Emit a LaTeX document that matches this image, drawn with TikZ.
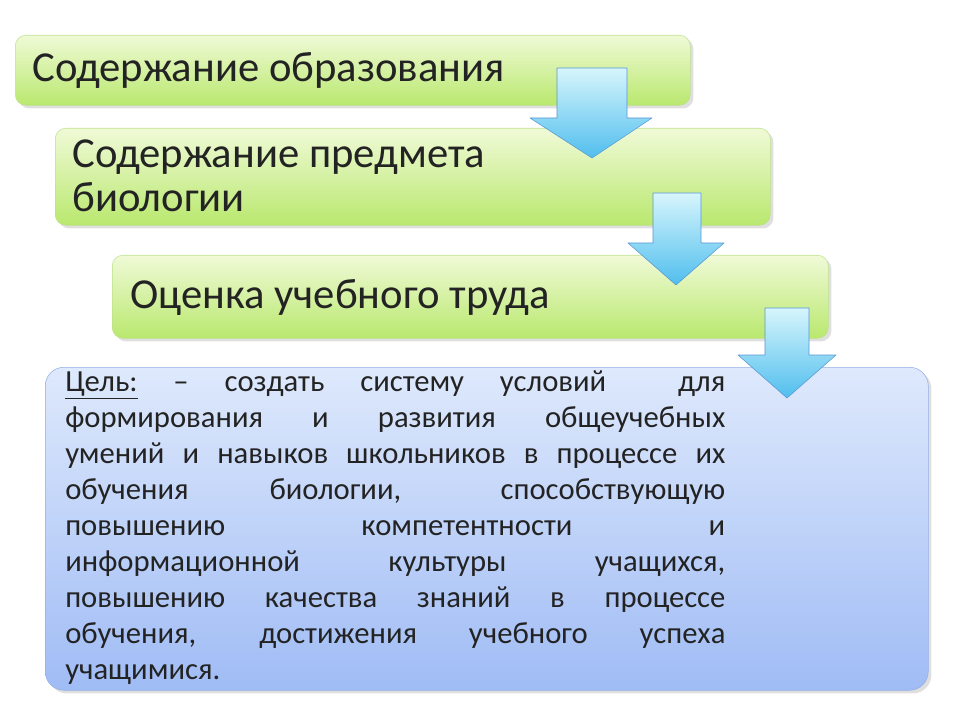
\documentclass[tikz,border=0pt]{standalone}
\usepackage{fontspec}
\setmainfont{Carlito}
\usetikzlibrary{shadows}
\definecolor{greentop}{RGB}{240,250,215}
\definecolor{greenbot}{RGB}{185,232,110}
\definecolor{greenline}{RGB}{190,225,140}
\definecolor{bluetop}{RGB}{222,233,252}
\definecolor{bluebot}{RGB}{160,188,245}
\definecolor{blueline}{RGB}{150,175,230}
\definecolor{arrtop}{RGB}{215,245,252}
\definecolor{arrbot}{RGB}{80,190,238}
\definecolor{arrline}{RGB}{90,150,210}
\definecolor{ink}{RGB}{35,35,35}
\tikzset{
  stage/.style={rounded corners=8pt, draw=greenline, top color=greentop, bottom color=greenbot, anchor=north west, inner sep=0pt, drop shadow={opacity=0.25}},
  goal/.style={rounded corners=14pt, draw=blueline, top color=bluetop, bottom color=bluebot, anchor=north west, inner sep=0pt, drop shadow={opacity=0.25}},
  down/.style={draw=arrline, top color=arrtop, bottom color=arrbot, line join=round}
}
\begin{document}
\begin{tikzpicture}[x=0.75pt,y=-0.75pt, every node/.append style={text=ink}]
  \useasboundingbox (0,0) rectangle (960,720);
  \node[stage, minimum width=675*0.75pt, minimum height=70*0.75pt] (edu) at (15,35) {};
  \node[stage, minimum width=715*0.75pt, minimum height=97*0.75pt] (subj) at (55,128) {};
  \node[stage, minimum width=716*0.75pt, minimum height=83*0.75pt] (work) at (112,255) {};
  \node[goal, minimum width=883*0.75pt, minimum height=323*0.75pt] (aim) at (45,367) {};

  \node[anchor=west, inner sep=0pt, font=\fontsize{32}{34}\selectfont] (edut) at (32,70) {Содержание образования};
  \node[anchor=west, inner sep=0pt, align=left, font=\fontsize{32}{33}\selectfont] (subjt) at (72,176) {Содержание предмета\\биологии};
  \node[anchor=west, inner sep=0pt, font=\fontsize{32}{34}\selectfont] (workt) at (130,297) {Оценка учебного труда};
  \node[anchor=north west, text width=495pt, align=justify, inner sep=0pt,
        font=\fontsize{23}{27}\selectfont] (aimt) at (65,371)
    {\underline{Цель:} -- создать систему условий \ для\linebreak формирования и развития общеучебных\linebreak умений и навыков школьников в процессе их\linebreak обучения биологии, способствующую\linebreak повышению компетентности и\linebreak информационной культуры учащихся,\linebreak повышению качества знаний в процессе\linebreak обучения, достижения учебного успеха\linebreak учащимися.};

  % arrows
  \draw[down] (557,68) -- (627,68) -- (627,118) -- (652,118) -- (592,158) -- (530,118) -- (557,118) -- cycle;
  \draw[down] (653,193) -- (701,193) -- (701,243) -- (724,243) -- (676,285) -- (628,243) -- (653,243) -- cycle;
  \draw[down] (765,308) -- (809,308) -- (809,355) -- (836,355) -- (787,398) -- (738,355) -- (765,355) -- cycle;
\end{tikzpicture}
\end{document}
